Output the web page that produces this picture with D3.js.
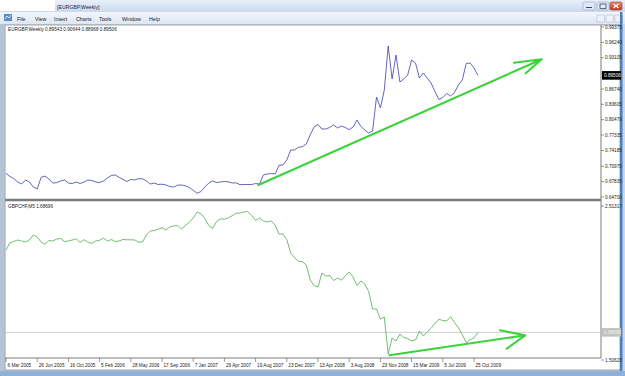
<!DOCTYPE html>
<html>
<head>
<meta charset="utf-8">
<script src="https://cdn.jsdelivr.net/npm/d3@7"></script>
<style>
  body { margin: 0; overflow: hidden; background: #fff; }
</style>
</head>
<body>
<div id="chart"></div>
<script>
// weekly closes, one value every 2 bars (bar 0 = 6 Mar 2005)
const eurgbp = [
  0.6953, 0.6888, 0.6847, 0.6776, 0.6735, 0.6817, 0.6776, 0.6674, 0.6633, 0.6868,
  0.6898, 0.6837, 0.6755, 0.6762, 0.6796, 0.6817, 0.6755, 0.6745, 0.6776, 0.6745,
  0.6776, 0.6817, 0.6806, 0.6776, 0.6764, 0.6796, 0.6857, 0.6908, 0.6919, 0.6872,
  0.6831, 0.6786, 0.6827, 0.6817, 0.6843, 0.6841, 0.6796, 0.6735, 0.6755, 0.6725,
  0.6731, 0.6715, 0.6684, 0.6674, 0.6711, 0.6715, 0.6699, 0.6664, 0.6607, 0.6545,
  0.6582, 0.6674, 0.6755, 0.6796, 0.6764, 0.6776, 0.6788, 0.6780, 0.6755, 0.6759,
  0.6721, 0.6725, 0.6725, 0.6725, 0.6745, 0.6735, 0.6919, 0.6939, 0.6949, 0.6939,
  0.7117, 0.7123, 0.7225, 0.7429, 0.7429, 0.7484, 0.7496, 0.7551, 0.7735, 0.7898,
  0.7949, 0.7857, 0.7857, 0.7888, 0.7939, 0.7877, 0.7918, 0.7888, 0.7843, 0.7898,
  0.8041, 0.7908, 0.7837, 0.7775, 0.7816, 0.8510, 0.8285, 0.8652, 0.9550, 0.8877,
  0.9366, 0.8816, 0.8877, 0.8958, 0.9264, 0.9203, 0.8897, 0.8999, 0.8897, 0.8795,
  0.8618, 0.8459, 0.8500, 0.8581, 0.8530, 0.8602, 0.8755, 0.8856, 0.9193, 0.9203,
  0.9101, 0.8951
];

const gbpchf = [
  2.2255, 2.2732, 2.2811, 2.2909, 2.2843, 2.2778, 2.2909, 2.3236, 2.3105, 2.2778,
  2.2628, 2.2876, 2.2843, 2.2974, 2.3007, 2.2811, 2.2843, 2.2909, 2.2987, 2.2745,
  2.2928, 2.2778, 2.2680, 2.2843, 2.2889, 2.3039, 2.2843, 2.2941, 2.2811, 2.2843,
  2.2941, 2.2922, 2.2922, 2.2909, 2.2765, 2.2778, 2.3236, 2.3497, 2.3530, 2.3608,
  2.3713, 2.3562, 2.3759, 2.3824, 2.3857, 2.3628, 2.3857, 2.4066, 2.4347, 2.4739,
  2.4628, 2.4314, 2.3857, 2.3661, 2.4118, 2.4295, 2.4269, 2.4360, 2.4498, 2.4654,
  2.4674, 2.4739, 2.4772, 2.4511, 2.4184, 2.4347, 2.4151, 2.4086, 2.4164, 2.3889,
  2.3301, 2.3301, 2.2941, 2.2059, 2.1751, 2.1516, 2.1490, 2.1274, 2.0293, 1.9934,
  1.9836, 2.0751, 2.0555, 2.0587, 2.0261, 2.0424, 2.0280, 2.0574, 2.0816, 2.0489,
  1.9934, 2.0228, 2.0032, 1.9541, 1.8397, 1.8397, 1.7743, 1.7874, 1.5455, 1.6501,
  1.6305, 1.6762, 1.6534, 1.6468, 1.6305, 1.6370, 1.6959, 1.6632, 1.6893, 1.7142,
  1.7449, 1.7730, 1.7639, 1.7612, 1.7887, 1.7514, 1.7174, 1.6730, 1.6200, 1.6390,
  1.6501, 1.6870
];

// one label every 16 bars
const dateLabels = [
  "6 Mar 2005", "26 Jun 2005", "16 Oct 2005", "5 Feb 2006", "28 May 2006",
  "17 Sep 2006", "7 Jan 2007", "29 Apr 2007", "19 Aug 2007", "23 Dec 2007",
  "13 Apr 2008", "3 Aug 2008", "23 Nov 2008", "15 Mar 2009", "5 Jul 2009", "25 Oct 2009"
];
// 0.89970 sits under the last price box, so it is not listed
const upperTicks = [0.99375, 0.96240, 0.93105, 0.86740, 0.83605, 0.80470,
                    0.77335, 0.74185, 0.70970, 0.67835, 0.64700];
const lowerTicks = [2.51317, 1.50623];

const upperHeader = "EURGBP,Weekly  0.89543 0.90644 0.88968 0.89506";
const lowerHeader = "GBPCHF,M5 1.68696";
const upperLast = 0.89506;
const lowerLast = 1.68696;

// hand drawn arrows: [bar, price] start and tip
const upperTrend = [[129.4, 0.6715], [274.7, 0.9279]];
const lowerTrend = [[196.6, 1.5370], [266.2, 1.6677]];

const menuItems = ["File", "View", "Insert", "Charts", "Tools", "Window", "Help"];
const menuX = [17, 35, 54, 76, 99, 122, 149];

const W = 625, H = 376;
const plotLeft = 5, plotRight = 601;
const upperTop = 25, lowerBottom = 358;

const svg = d3.select("#chart")
    .append("svg")
        .attr("width", W)
        .attr("height", H)
        .style("font-family", "'Liberation Sans', Arial, sans-serif");

const defs = svg.append("defs");

let titleGrad = defs.append("linearGradient")
    .attr("id", "titleGrad")
    .attr("x1", "0").attr("y1", "0").attr("x2", "0").attr("y2", "1");
titleGrad.append("stop").attr("offset", "0%").attr("stop-color", "#e9f0f9");
titleGrad.append("stop").attr("offset", "100%").attr("stop-color", "#c8d8ec");

let menuGrad = defs.append("linearGradient")
    .attr("id", "menuGrad")
    .attr("x1", "0").attr("y1", "0").attr("x2", "0").attr("y2", "1");
menuGrad.append("stop").attr("offset", "0%").attr("stop-color", "#f3f6fb");
menuGrad.append("stop").attr("offset", "100%").attr("stop-color", "#dde6f2");

let closeGrad = defs.append("linearGradient")
    .attr("id", "closeGrad")
    .attr("x1", "0").attr("y1", "0").attr("x2", "0").attr("y2", "1");
closeGrad.append("stop").attr("offset", "0%").attr("stop-color", "#e6917d");
closeGrad.append("stop").attr("offset", "100%").attr("stop-color", "#c5391d");

// window chrome
svg.append("rect").attr("width", W).attr("height", H).attr("fill", "#c9d7ea");
svg.append("rect").attr("x", 0).attr("y", 0).attr("width", W).attr("height", 12).attr("fill", "url(#titleGrad)");
svg.append("rect").attr("x", 0).attr("y", 0).attr("width", 55).attr("height", 11).attr("fill", "#ffffff");
svg.append("text").attr("x", 57).attr("y", 8.5).attr("font-size", 5.2).attr("fill", "#1e2a3c")
    .text("[EURGBP,Weekly]");

const winBtns = [583, 597, 610];
svg.selectAll(".winbtn").data(winBtns).enter().append("rect")
    .attr("class", "winbtn")
    .attr("x", d => d).attr("y", 2).attr("width", 12).attr("height", 8).attr("rx", 1.5)
    .attr("fill", (d, i) => i === 2 ? "url(#closeGrad)" : "#dfe8f4")
    .attr("stroke", (d, i) => i === 2 ? "#9c3a2a" : "#8ea6c6").attr("stroke-width", 0.6);
svg.append("line").attr("x1", 586).attr("x2", 592).attr("y1", 7.5).attr("y2", 7.5).attr("stroke", "#3a4a66");
svg.append("rect").attr("x", 600).attr("y", 4).attr("width", 6).attr("height", 4.5)
    .attr("fill", "none").attr("stroke", "#3a4a66").attr("stroke-width", 0.8);
svg.append("path").attr("d", "M613.5,4 L618.5,8 M618.5,4 L613.5,8").attr("stroke", "#fff").attr("stroke-width", 1.1);

svg.append("rect").attr("x", 0).attr("y", 12).attr("width", W).attr("height", 12).attr("fill", "url(#menuGrad)");
svg.append("rect").attr("x", 4).attr("y", 14).attr("width", 8).attr("height", 7).attr("fill", "#5a8bc8");
svg.append("path").attr("d", "M5,19 L7,16 L9,18 L11,15").attr("fill", "none").attr("stroke", "#fff").attr("stroke-width", 0.8);
svg.selectAll(".menu").data(menuItems).enter().append("text")
    .attr("class", "menu")
    .attr("x", (d, i) => menuX[i]).attr("y", 20.5)
    .attr("font-size", 5.3).attr("fill", "#1b1b1b")
    .text(d => d);
svg.selectAll(".mdibtn").data([597, 606, 615]).enter().append("rect")
    .attr("class", "mdibtn")
    .attr("x", d => d).attr("y", 15).attr("width", 7.5).attr("height", 7)
    .attr("fill", "#eef2f8").attr("stroke", "#a8b8d0").attr("stroke-width", 0.5);

// chart window
svg.append("rect").attr("x", plotLeft).attr("y", upperTop).attr("width", 615).attr("height", 345)
    .attr("fill", "#ffffff").attr("stroke", "#8a8a8a").attr("stroke-width", 0.8);
svg.append("rect").attr("x", 620).attr("y", 12).attr("width", 2.5).attr("height", 364).attr("fill", "#4d7fbf");
svg.append("rect").attr("x", 0).attr("y", 371).attr("width", W).attr("height", 5).attr("fill", "#8fb0d8");
svg.append("rect").attr("x", 0).attr("y", 24).attr("width", 4).attr("height", 347).attr("fill", "#b7c4d6");

// scales
const x = d3.scaleLinear().domain([0, 300]).range([6, 6 + 300 * 1.95]);
const yU = d3.scaleLinear().domain([0.647, 0.99375]).range([197, 27]);
const yL = d3.scaleLinear().domain([1.50623, 2.51317]).range([360, 206]);

// frame lines
const frame = svg.append("g").attr("stroke", "#7c7c7c").attr("fill", "none");
frame.append("line").attr("x1", plotRight).attr("x2", plotRight).attr("y1", upperTop).attr("y2", lowerBottom);
frame.append("line").attr("x1", plotLeft).attr("x2", plotRight).attr("y1", lowerBottom).attr("y2", lowerBottom);
frame.append("line").attr("x1", plotLeft).attr("x2", plotRight).attr("y1", 200).attr("y2", 200)
    .attr("stroke-width", 2.6);

// current price line of the lower pane
svg.append("line")
    .attr("x1", plotLeft).attr("x2", plotRight)
    .attr("y1", yL(lowerLast)).attr("y2", yL(lowerLast))
    .attr("stroke", "#c4c4c4").attr("stroke-width", 0.8);

// series
const lineU = d3.line().x((d, i) => x(i * 2)).y(d => yU(d));
const lineL = d3.line().x((d, i) => x(i * 2)).y(d => yL(d));

svg.append("path").datum(eurgbp)
    .attr("d", lineU)
    .attr("fill", "none").attr("stroke", "#5454b4").attr("stroke-width", 0.9);
svg.append("path").datum(gbpchf)
    .attr("d", lineL)
    .attr("fill", "none").attr("stroke", "#62b462").attr("stroke-width", 0.9);

// headers
svg.append("text").attr("x", 8).attr("y", 31).attr("font-size", 4.7).attr("fill", "#222").text(upperHeader);
svg.append("text").attr("x", 8).attr("y", 208).attr("font-size", 4.7).attr("fill", "#222").text(lowerHeader);

// price axis
const axisU = svg.append("g").attr("class", "axis-u");
upperTicks.forEach(v => {
    axisU.append("line").attr("x1", plotRight).attr("x2", plotRight + 3)
        .attr("y1", yU(v)).attr("y2", yU(v)).attr("stroke", "#555").attr("stroke-width", 0.6);
    axisU.append("text").attr("x", plotRight + 4).attr("y", yU(v) + 1.7)
        .attr("font-size", 4.7).attr("fill", "#222").text(v.toFixed(5));
});
const axisL = svg.append("g").attr("class", "axis-l");
lowerTicks.forEach(v => {
    axisL.append("line").attr("x1", plotRight).attr("x2", plotRight + 3)
        .attr("y1", yL(v)).attr("y2", yL(v)).attr("stroke", "#555").attr("stroke-width", 0.6);
    axisL.append("text").attr("x", plotRight + 4).attr("y", yL(v) + 1.7)
        .attr("font-size", 4.7).attr("fill", "#222").text(v.toFixed(5));
});

// last price boxes
svg.append("rect").attr("x", plotRight + 1).attr("y", yU(upperLast) - 4.3).attr("width", 19).attr("height", 8.6).attr("fill", "#000");
svg.append("text").attr("x", plotRight + 3).attr("y", yU(upperLast) + 1.7).attr("font-size", 4.7).attr("fill", "#fff")
    .text(upperLast.toFixed(5));
svg.append("rect").attr("x", plotRight + 1).attr("y", yL(lowerLast) - 4.3).attr("width", 19).attr("height", 8.6).attr("fill", "#c2c2c2");
svg.append("text").attr("x", plotRight + 3).attr("y", yL(lowerLast) + 1.7).attr("font-size", 4.7).attr("fill", "#f4f4f4")
    .text(lowerLast.toFixed(5));

// time axis
const axisX = svg.append("g").attr("class", "axis-x");
dateLabels.forEach((label, i) => {
    const xp = x(i * 16);
    axisX.append("line").attr("x1", xp).attr("x2", xp).attr("y1", lowerBottom).attr("y2", lowerBottom + 4)
        .attr("stroke", "#555").attr("stroke-width", 0.6);
    axisX.append("text").attr("x", xp + 1.5).attr("y", 366.5).attr("font-size", 4.7).attr("fill", "#222").text(label);
});

// green arrows drawn over the chart
const drawArrow = function (pts, yScale, barbs) {
    const p0 = [x(pts[0][0]), yScale(pts[0][1])];
    const p1 = [x(pts[1][0]), yScale(pts[1][1])];
    let d = "M" + p0 + "L" + p1;
    barbs.forEach(b => { d += "M" + p1 + "l" + b; });
    svg.append("path").attr("d", d)
        .attr("fill", "none").attr("stroke", "#3bd23b").attr("stroke-width", 2.1)
        .attr("stroke-linecap", "round");
};
drawArrow(upperTrend, yU, [[-27.7, 3.4], [-16, 14]]);
drawArrow(lowerTrend, yL, [[-25, -5], [-18.3, 13.4]]);
</script>
</body>
</html>
